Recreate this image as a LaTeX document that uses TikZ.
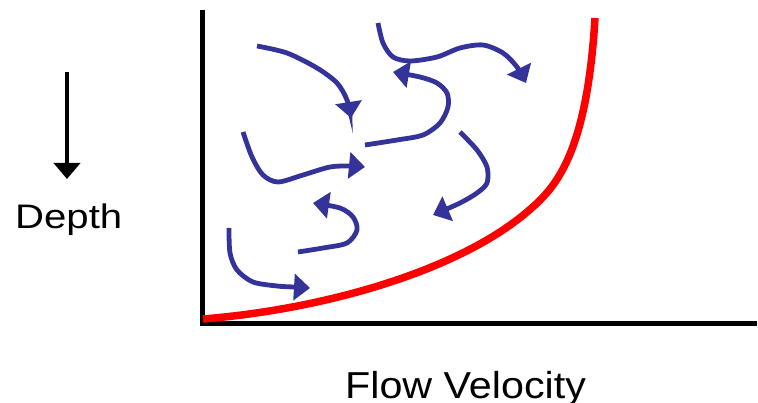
\documentclass[tikz,border=0pt]{standalone}
\usepackage{fontspec}
\setmainfont{Liberation Sans}
\usetikzlibrary{arrows.meta}
\definecolor{flowblue}{RGB}{51,51,153}
\definecolor{profred}{RGB}{255,0,0}
\tikzset{
  eddy/.style={draw=flowblue, line width=4.8pt, line cap=butt,
    -{Triangle[length=16pt,width=26pt,fill=flowblue]}},
  axisline/.style={draw=black, line width=5pt},
  profile/.style={draw=profred, line width=7.5pt},
  label/.style={inner sep=0pt, font=\fontsize{34}{40}\selectfont}
}
\begin{document}
\begin{tikzpicture}[x=1pt,y=-1pt]
\useasboundingbox (0,0) rectangle (758,403);
% axes
\draw[axisline] (202.5,10) -- (202.5,323.5) -- (757,323.5);
% velocity profile
\coordinate (p0) at (203,319);
\coordinate (p1) at (527,212);
\coordinate (p2) at (595,18);
\draw[profile] (p0) .. controls (323,309.4) and (457,271.5) .. (p1)
  .. controls (553.7,189.3) and (586.6,158) .. (p2);
% eddies
\draw[eddy] plot[smooth] coordinates {(257,46) (287,53) (317,68) (337,83) (347,100) (351,118)};
\draw[eddy] plot[smooth] coordinates {(378,23) (383,43) (393,57) (410,61) (437,57) (460,48) (483,45) (503,53) (517,67) (526,83)};
\draw[eddy] plot[smooth] coordinates {(365,145) (397,140) (423,135) (440,123) (448,107) (447,93) (437,83) (420,77) (393,72)};
\draw[eddy] plot[smooth] coordinates {(243,132) (252,157) (263,175) (278,182) (303,175) (330,167) (350,166) (365,167)};
\draw[eddy] plot[smooth] coordinates {(460,132) (477,150) (487,167) (487,183) (477,193) (460,203) (433,215)};
\draw[eddy] plot[smooth] coordinates {(298,252) (323,248) (347,243) (357,230) (353,217) (340,208) (313,203)};
\draw[eddy] plot[smooth] coordinates {(229,228) (230,253) (237,270) (253,282) (277,286) (293,287) (310,288)};
% depth arrow and labels
\coordinate (dtop) at (67,72);
\coordinate (dbot) at (67,179);
\draw[line width=4.5pt, -{Triangle[length=16pt,width=26pt]}] (dtop) -- (dbot);
\node[label, anchor=base west] (depth) at (15,229) {\scalebox{1.18}[1]{Depth}};
\node[label, anchor=base west] (flow) at (345,399) {\fontsize{37.5}{44}\selectfont\scalebox{1.1}[1]{Flow Velocity}};
\end{tikzpicture}
\end{document}
